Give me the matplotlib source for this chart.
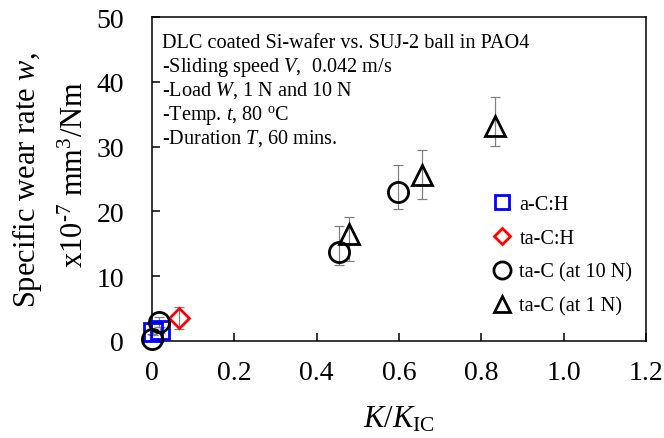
import matplotlib
matplotlib.use("Agg")
import matplotlib.pyplot as plt
import numpy as np

plt.rcParams['font.family'] = ['Liberation Serif', 'DejaVu Serif']
plt.rcParams['mathtext.fontset'] = 'custom'
plt.rcParams['mathtext.rm'] = 'Liberation Serif'
plt.rcParams['mathtext.it'] = 'Liberation Serif:italic'
plt.rcParams['mathtext.bf'] = 'Liberation Serif:bold'

# K/K_IC and specific wear rate (x10^-7 mm^3/Nm) for each coating
ach_x = [0.002, 0.019]
ach_y = [1.4, 1.7]
ach_lo = [0.5, 0.5]
ach_hi = [0.5, 0.5]

tach_x = [0.066]
tach_y = [3.6]
tach_lo = [1.7]
tach_hi = [1.7]

tac10_x = [0.0, 0.016, 0.455, 0.597]
tac10_y = [0.3, 2.9, 13.7, 23.0]
tac10_lo = [0.3, 0.8, 1.9, 2.7]
tac10_hi = [0.8, 0.8, 4.0, 4.1]

tac1_x = [0.478, 0.655, 0.833]
tac1_y = [16.5, 25.6, 33.2]
tac1_lo = [4.2, 3.7, 3.1]
tac1_hi = [2.7, 3.8, 4.5]

labels = ['a-C:H', 'ta-C:H', 'ta-C (at 10 N)', 'ta-C (at 1 N)']

info_lines = [
    'DLC coated Si-wafer vs. SUJ-2 ball in PAO4',
    '-Sliding speed $V$,  0.042 m/s',
    '-Load $W$, 1 N and 10 N',
    '-Temp. $t$, 80 $^{\\rm o}$C',
    '-Duration $T$, 60 mins.',
]

W, H = 664, 439
fig = plt.figure(figsize=(W / 100, H / 100), dpi=100)
ax = fig.add_axes([152 / W, 1 - 342 / H, (646 - 152) / W, (342 - 18) / H])

err_kw = dict(fmt='none', ecolor='#808080', elinewidth=0.9, capsize=3.5,
              capthick=0.9, clip_on=False, zorder=2)
ax.errorbar(ach_x, ach_y, yerr=[ach_lo, ach_hi], **err_kw)
ax.errorbar(tach_x, tach_y, yerr=[tach_lo, tach_hi], **err_kw)
ax.errorbar(tac10_x, tac10_y, yerr=[tac10_lo, tac10_hi], **err_kw)
ax.errorbar(tac1_x, tac1_y, yerr=[tac1_lo, tac1_hi], **err_kw)

mk = dict(linestyle='none', markerfacecolor='none', markeredgewidth=2.0,
          clip_on=False, zorder=3)
ax.plot(ach_x, ach_y, marker='s', markersize=12.5, markeredgecolor='#0000ff',
        label=labels[0], **mk)
ax.plot(tach_x, tach_y, marker='D', markersize=10, markeredgecolor='#ff0000',
        label=labels[1], **mk)
ax.plot(tac10_x, tac10_y, marker='o', markersize=14.5, markeredgecolor='black',
        label=labels[2], **mk)
ax.plot(tac1_x, tac1_y, marker='^', markersize=14, markeredgecolor='black',
        label=labels[3], **mk)

ax.set_xlim(0, 1.2)
ax.set_ylim(0, 50)
ax.set_xticks(np.arange(0, 1.21, 0.2))
ax.set_xticklabels(['0', '0.2', '0.4', '0.6', '0.8', '1.0', '1.2'])
ax.set_yticks(np.arange(0, 51, 10))
ax.tick_params(direction='in', length=6, width=1.1, labelsize=20,
               colors='black')
ax.tick_params(axis='x', pad=14)
ax.tick_params(axis='y', pad=20)
for s in ax.spines.values():
    s.set_linewidth(1.1)
    s.set_color('black')

leg = ax.legend(loc='upper left', bbox_to_anchor=(492 / W, 1 - 196 / H),
                bbox_transform=fig.transFigure, frameon=False, fontsize=14.6,
                handlelength=1.0, handletextpad=0.35, labelspacing=0.72,
                borderpad=0, borderaxespad=0, markerscale=0.85)

for i, line in enumerate(info_lines):
    fig.text(162 / W, 1 - (48 + 24 * i) / H, line, fontsize=14.6,
             ha='left', va='baseline')

fig.text(35 / W, 1 - 180 / H, 'Specific wear rate $w$,', fontsize=22,
         rotation=90, rotation_mode='anchor', ha='center', va='baseline')
fig.text(83 / W, 1 - 175 / H, 'x10$^{\\text{-7}}$ mm$^{3}$/Nm', fontsize=22,
         rotation=90, rotation_mode='anchor', ha='center', va='baseline')

fig.text(399 / W, 1 - 428 / H, '$K$/$K$$_{\\rm IC}$', fontsize=22,
         ha='center', va='baseline')

fig.savefig('out.png', dpi=100)
